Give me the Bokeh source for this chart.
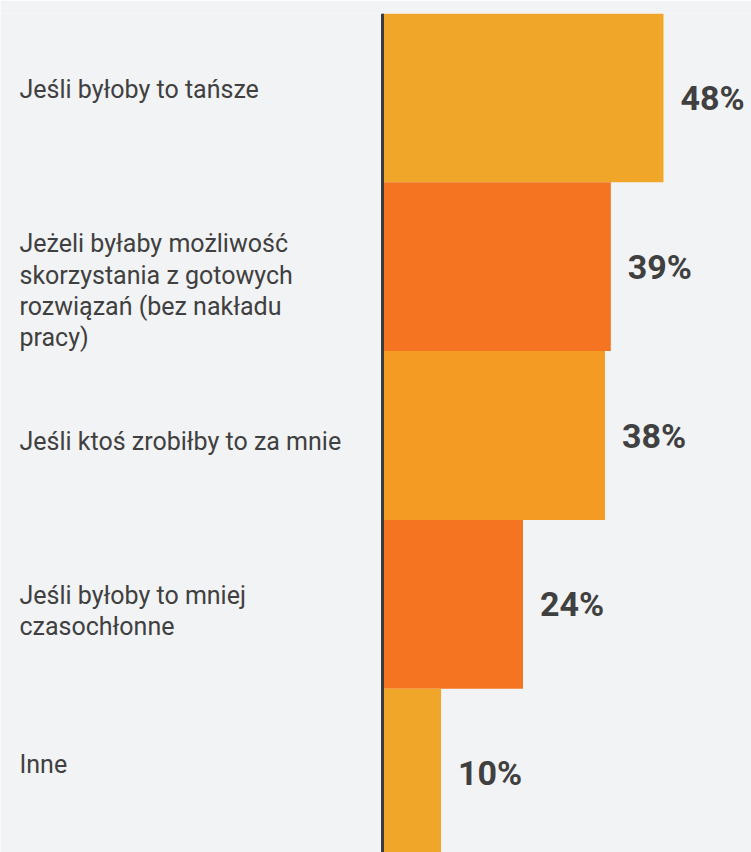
from bokeh.plotting import figure
from bokeh.models import ColumnDataSource, Range1d, Span
from bokeh.core.properties import value
from bokeh.embed import file_html
from bokeh.resources import INLINE

# ---- data ----
categories = [
    "Jeśli byłoby to tańsze",
    "Jeżeli byłaby możliwość\nskorzystania z gotowych\nrozwiązań (bez nakładu\npracy)",
    "Jeśli ktoś zrobiłby to za mnie",
    "Jeśli byłoby to mniej\nczasochłonne",
    "Inne",
]
values = [48, 39, 38, 24, 10]
value_labels = ["48%", "39%", "38%", "24%", "10%"]

# ---- style ----
bar_colors = ["#F0A628", "#F47421", "#F39B22", "#F47421", "#F0A628"]
label_dy = [-8, 24, 6, 7, -9]  # screen-pixel nudges of the category text
BG = "#F2F3F5"
TXT = "#404040"

W, H = 751, 852
TOP = 13
zero_px = 382.0
px_per_unit = 5.854
bar_px = 168.8

x_start = -zero_px / px_per_unit
x_end = (W - zero_px) / px_per_unit
frame_h = H - TOP
y_bottom = -0.5 + frame_h / bar_px

pos = list(range(len(values)))
src = ColumnDataSource(dict(
    y=pos, v=values, cat=categories, lab=value_labels,
    color=bar_colors, dy=label_dy,
    lx=[x_start] * len(values),
))

p = figure(width=W, height=H, output_backend="svg", toolbar_location=None,
           x_range=Range1d(x_start, x_end), y_range=Range1d(y_bottom, -0.5),
           min_border_left=0, min_border_right=0, min_border_top=TOP,
           min_border_bottom=0, outline_line_color=None,
           background_fill_color=BG, border_fill_color=BG)
p.axis.visible = False
p.xgrid.visible = False
p.ygrid.visible = False

p.hbar(y="y", left=0, right="v", height=1.0, color="color", line_color=None,
       source=src)

p.text(x="v", y="y", text="lab", source=src, x_offset=17,
       text_font=value("Roboto"), text_font_style="bold",
       text_font_size="34px", text_color=TXT, text_align="left",
       text_baseline="middle")

p.text(x="lx", y="y", text="cat", source=src, x_offset=19, y_offset="dy",
       text_font=value("Roboto"), text_font_size="25px", text_color=TXT,
       text_align="left", text_baseline="middle", text_line_height=1.08)

p.add_layout(Span(location=0, dimension="height", line_color="#3C3C3C",
                  line_width=3))

open("out.html", "w").write(file_html(p, INLINE))
